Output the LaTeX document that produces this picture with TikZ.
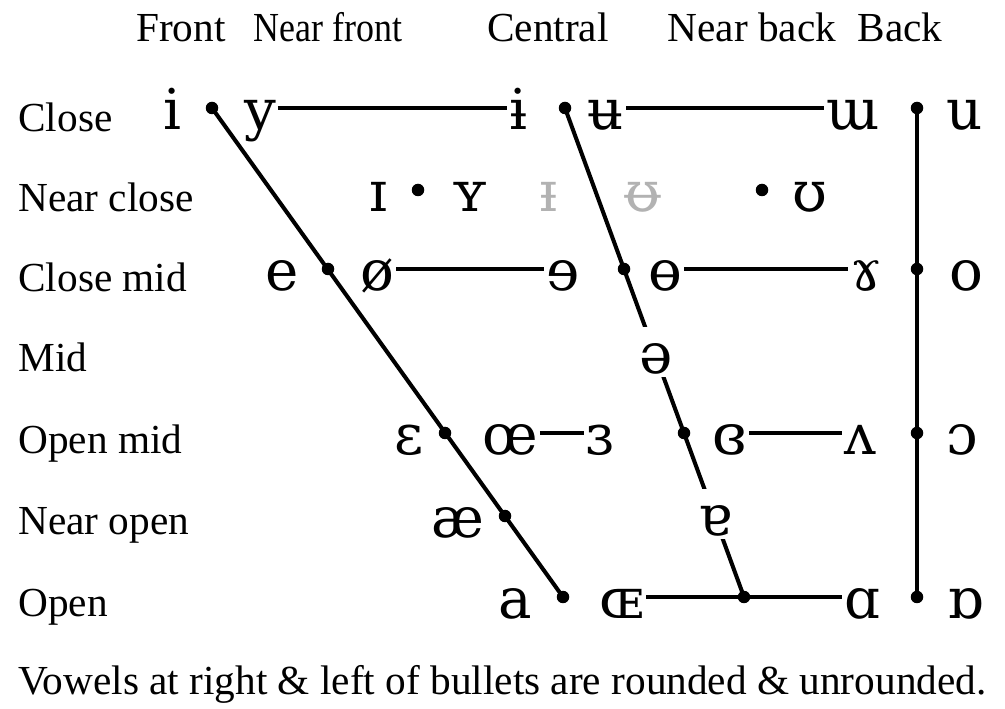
\documentclass[tikz,border=0pt]{standalone}
\usepackage{fontspec}
\setmainfont{Liberation Serif}
\newfontfamily\ipafont{DejaVu Serif}
\newfontfamily\narrowfont[FakeStretch=0.87]{Liberation Serif}
\usetikzlibrary{positioning}

\begin{document}
\begin{tikzpicture}[
		x=0.02cm, y=-0.02cm,
		label/.style={anchor=base west, inner sep=0pt, font=\fontsize{23.5}{28}\selectfont},
		colhead/.style={anchor=base, inner sep=0pt, font=\fontsize{23.5}{28}\selectfont},
		vowel/.style={inner sep=1pt, text height=0.95cm, text depth=0.07cm, font=\ipafont\fontsize{32}{38}\selectfont},
		faint/.style={vowel, text=black!30},
		gap/.style={vowel, fill=white, inner sep=0pt},
		dot/.style={circle, fill, inner sep=0pt, minimum size=0.25cm},
		chartline/.style={line width=2.3pt}
	]
		\useasboundingbox (0,0) rectangle (1005,709);

		\node[colhead] (front) at (181,42) {Front};
		\node[colhead, font=\narrowfont\fontsize{23.5}{28}\selectfont] (nearfront) at (328,42) {Near front};
		\node[colhead] (central) at (548,42) {Central};
		\node[colhead] (nearback) at (752,42) {Near back};
		\node[colhead] (back) at (900,42) {Back};

		\node[label] (close) at (18,132) {Close};
		\node[label] (nearclose) at (18,212) {Near close};
		\node[label] (closemid) at (18,292) {Close mid};
		\node[label] (mid) at (18,372) {Mid};
		\node[label] (openmid) at (18,454) {Open mid};
		\node[label] (nearopen) at (18,535) {Near open};
		\node[label] (open) at (18,617) {Open};

		\node[dot] (fc) at (212,108) {};
		\node[dot] (fcm) at (328,269) {};
		\node[dot] (fom) at (445,433) {};
		\node[dot] (fno) at (505,516) {};
		\node[dot] (fo) at (563,597) {};
		\node[dot] (cc) at (565,108) {};
		\node[dot] (ccm) at (624,269) {};
		\node[dot] (com) at (684,433) {};
		\node[dot] (co) at (744,597) {};
		\node[dot] (bc) at (917,108) {};
		\node[dot] (bcm) at (917,269) {};
		\node[dot] (bom) at (917,433) {};
		\node[dot] (bo) at (917,597) {};
		\node[dot] (nfnc) at (418,190) {};
		\node[dot] (nbnc) at (762,190) {};

		\draw[chartline] (fc.center) -- (fo.center);
		\draw[chartline] (cc.center) -- (co.center);
		\draw[chartline] (bc.center) -- (bo.center);

		\node[vowel] (i) at (172,108) {i};
		\node[vowel] (y) at (260,108) {y};
		\node[vowel] (ibar) at (518,108) {ɨ};
		\node[vowel] (ubar) at (606,108) {ʉ};
		\node[vowel] (uu) at (853,108) {ɯ};
		\node[vowel] (u) at (965,108) {u};

		\node[vowel] (smalli) at (378,190) {ɪ};
		\node[vowel] (smally) at (470,190) {ʏ};
		\node[faint] (smallibar) at (548,190) {ᵻ};
		\node[faint] (smallubar) at (643,190) {ᵿ};
		\node[vowel] (upsilon) at (810,190) {ʊ};

		\node[vowel] (e) at (282,269) {e};
		\node[vowel] (oslash) at (377,269) {ø};
		\node[vowel] (reve) at (563,269) {ɘ};
		\node[vowel] (obar) at (665,269) {ɵ};
		\node[vowel] (ramshorn) at (866,269) {ɤ};
		\node[vowel] (o) at (966,269) {o};

		\node[gap] (schwa) at (656,352) {ə};

		\node[vowel] (epsilon) at (409,433) {ɛ};
		\node[vowel] (oe) at (510,433) {œ};
		\node[vowel] (revepsilon) at (600,433) {ɜ};
		\node[vowel] (closedrevepsilon) at (730,433) {ɞ};
		\node[vowel] (wedge) at (860,433) {ʌ};
		\node[vowel] (openo) at (962,433) {ɔ};

		\node[vowel] (ae) at (458,516) {æ};
		\node[gap] (turneda) at (715,514) {ɐ};

		\node[vowel] (a) at (515,597) {a};
		\node[vowel] (smalloe) at (622,597) {ɶ};
		\node[vowel] (alpha) at (862,597) {ɑ};
		\node[vowel] (turnedalpha) at (965,597) {ɒ};

		\draw[chartline] (y) -- (ibar);
		\draw[chartline] (ubar) -- (uu);
		\draw[chartline] (oslash) -- (reve);
		\draw[chartline] (obar) -- (ramshorn);
		\draw[chartline] (oe) -- (revepsilon);
		\draw[chartline] (closedrevepsilon) -- (wedge);
		\draw[chartline] (smalloe) -- (alpha);

		\node[label] (caption) at (18,695) {Vowels at right \& left of bullets are rounded \& unrounded.};
	\end{tikzpicture}
\end{document}
